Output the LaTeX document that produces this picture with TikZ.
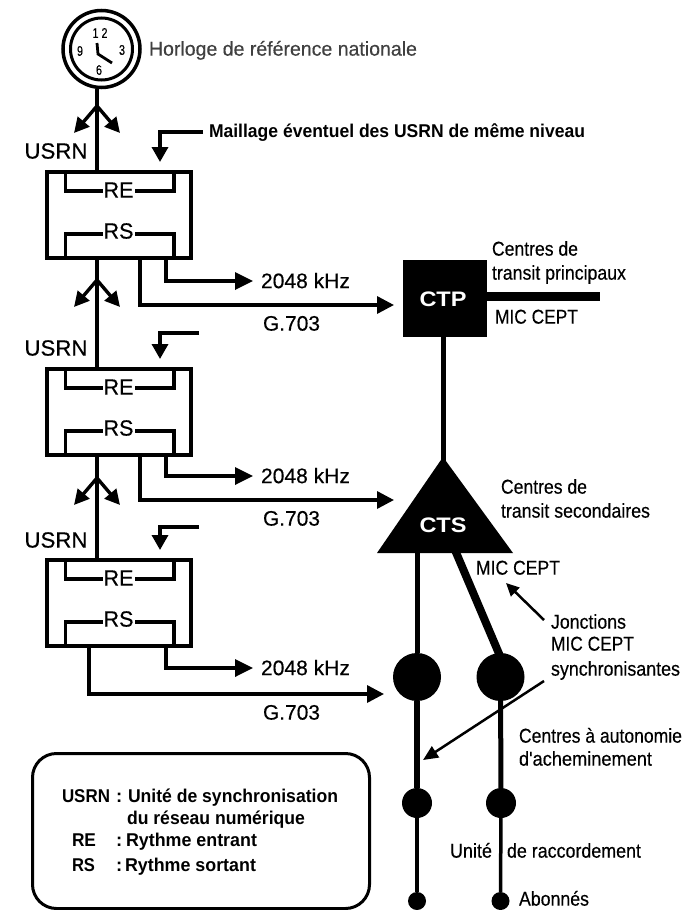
\documentclass[tikz,border=0pt]{standalone}
\usepackage{fontspec}
\usepackage{graphicx}
\setmainfont{Liberation Sans}
\newfontfamily\medf[FakeBold=0.35]{Liberation Sans}
\usetikzlibrary{arrows.meta}
\newcommand{\tw}[2]{\resizebox{#1pt}{\height}{#2}}
\tikzset{
  wire/.style={line width=3.6pt,line join=miter},
  thinwire/.style={line width=2.5pt},
  sm/.style={-{Triangle[length=15pt,width=16pt]},line width=3.4pt},
  bigarrow/.style={-{Triangle[length=18pt,width=17pt]},line width=3.4pt},
  lab/.style={anchor=mid west,yshift=-3pt,inner sep=0pt,outer sep=0pt,font=\fontsize{20}{21}\medf},
  lablarge/.style={lab,yshift=-1.5pt,font=\fontsize{21}{22}\medf},
  boldlab/.style={lab,font=\fontsize{18.5}{19}\selectfont\bfseries},
  ctr/.style={inner sep=0pt,outer sep=0pt,font=\fontsize{22}{23}\medf},
  whitelab/.style={inner sep=0pt,outer sep=0pt,text=white,font=\fontsize{21}{22}\selectfont\bfseries},
  digit/.style={inner sep=0pt,font=\fontsize{14}{15}\medf},
  blob/.style={circle,fill=black,inner sep=0pt},
  usrnbox/.style={draw,line width=3.8pt,rectangle,inner sep=0pt,minimum width=144pt,minimum height=86pt,anchor=north west},
}
\begin{document}
\begin{tikzpicture}[x=1pt,y=-1pt]
\useasboundingbox (0,0) rectangle (690,910);
% clock
\node[circle,draw,line width=3.5pt,minimum size=77pt,inner sep=0pt] (clock) at (101.5,49) {};
\node[circle,draw,line width=3pt,minimum size=62pt,inner sep=0pt] (dial) at (101.5,49) {};
\node[digit] (d12) at (100,33) {\tw{15}{1 2}};
\node[digit] (d9) at (80,51) {\tw{6}{9}};
\node[digit] (d3) at (122,50) {\tw{6}{3}};
\node[digit] (d6) at (99,70) {\tw{6}{6}};
\coordinate (h1) at (97,43);\coordinate (h2) at (98,54);\coordinate (h3) at (112,63);
\draw[line width=2.8pt] (h1) -- (h2) -- (h3);
\node[lab,text=black!75] (horloge) at (149,50) {\tw{268}{Horloge de référence nationale}};
\node[boldlab] (maillage) at (209,132) {\tw{376}{Maillage éventuel des USRN de même niveau}};
% boxes
\foreach \i/\t/\bot/\fb/\gy/\usy/\my/\mx/\xo in {1/170/256/281/305/151/132/203/140,2/367/453/476/500/348/333/199/140,3/558/645/668/694/540/527/199/89}{
  \node[usrnbox] (b\i) at (45,\t) {};
  \node[ctr] (re\i) at (118.5,\t+20) {\tw{30}{RE}};
  \node[ctr] (rs\i) at (118.5,\t+61) {\tw{30}{RS}};
  \coordinate (rea\i) at (65.5,\t);\coordinate (reb\i) at (65.5,\t+21);
  \coordinate (rec\i) at (174,\t);\coordinate (red\i) at (174,\t+21);
  \coordinate (rsa\i) at (65.5,\bot);\coordinate (rsb\i) at (65.5,\t+64);
  \coordinate (rsc\i) at (174,\bot);\coordinate (rsd\i) at (174,\t+64);
  \draw[wire] (rea\i) -- (reb\i) -- ([xshift=-1pt]re\i.west |- reb\i);
  \draw[wire] (rec\i) -- (red\i) -- ([xshift=1pt]re\i.east |- red\i);
  \draw[wire] (rsa\i) -- (rsb\i) -- ([xshift=-1pt]rs\i.west |- rsb\i);
  \draw[wire] (rsc\i) -- (rsd\i) -- ([xshift=1pt]rs\i.east |- rsd\i);
  \node[ctr,anchor=center] (usrn\i) at (56,\usy) {\tw{63}{USRN}};
  \coordinate (m\i) at (\mx,\my);\coordinate (mc\i) at (160,\my);\coordinate (mt\i) at (160,\t-8);
  \draw[sm] (m\i) -- (mc\i) -- (mt\i);
  \coordinate (fs\i) at (166,\bot);\coordinate (fc\i) at (166,\fb);\coordinate (ft\i) at (253,\fb);
  \draw[bigarrow] (fs\i) -- (fc\i) -- (ft\i);
  \node[lablarge] (khz\i) at (261,\fb) {\tw{89}{2048 kHz}};
  \node[lablarge] (g\i) at (263,\gy+18.5) {\tw{57}{G.703}};
  \coordinate (gs\i) at (\xo,\bot);\coordinate (gc\i) at (\xo,\gy);
}
% vertical chain
\coordinate (j1) at (97,106);\coordinate (j2) at (97,280);\coordinate (j3) at (97,478);
\coordinate (s0) at (97,89);\coordinate (s1t) at (97,170);\coordinate (s1b) at (97,256);
\coordinate (s2t) at (97,367);\coordinate (s2b) at (97,453);\coordinate (s3t) at (97,558);
\draw[wire] (s0) -- (s1t);\draw[wire] (s1b) -- (s2t);\draw[wire] (s2b) -- (s3t);
\foreach \j in {1,2,3}{
  \coordinate (al\j) at ([shift={(-23,27)}]j\j);
  \coordinate (ar\j) at ([shift={(23,27)}]j\j);
  \draw[sm,-{Triangle[length=15pt,width=15pt]}] (j\j) -- (al\j);
  \draw[sm,-{Triangle[length=15pt,width=15pt]}] (j\j) -- (ar\j);
}
% CTP
\node[rectangle,fill=black,minimum width=84pt,minimum height=77pt,inner sep=0pt,anchor=north west] (ctp) at (403,260) {};
\node[whitelab] (ctpl) at (443,299) {\tw{47}{CTP}};
\coordinate (ctpe) at (600,296);
\draw[line width=9pt] (ctp.east |- ctpe) -- (ctpe);
% CTS
\coordinate (ta) at (443,457);\coordinate (tb) at (377,553);\coordinate (tc) at (513,553);
\fill (ta) -- (tc) -- (tb) -- cycle;
\node[whitelab] (ctsl) at (443,525) {\tw{47}{CTS}};
\draw[line width=5pt] (ctp.south -| ta) -- ([yshift=-6pt]ta);
% G.703 lines
\coordinate (k1) at (394,305);\coordinate (k2) at (394,500);\coordinate (k3) at (384,694);
\foreach \i in {1,2,3}{\draw[bigarrow,-{Triangle[length=17pt,width=17pt]}] (gs\i) -- (gc\i) -- (k\i);}
% trees
\node[blob,minimum size=48pt] (c1) at (417,677) {};
\node[blob,minimum size=48pt] (c2) at (500.5,677) {};
\node[blob,minimum size=30pt] (u1) at (417,803) {};
\node[blob,minimum size=30pt] (u2) at (501,803) {};
\node[blob,minimum size=18pt] (a1) at (417,901) {};
\node[blob,minimum size=18pt] (a2) at (500.5,901) {};
\coordinate (tl) at (417,553);\coordinate (tr) at (455,550);\coordinate (ce) at (500,656);
\draw[line width=5pt] (tl) -- (c1);
\draw[line width=8pt] (tr) -- (ce);
\draw[line width=6pt] (c1) -- (u1);
\draw[line width=5pt] (c2) -- (u2);
\draw[line width=4pt] (u1) -- (a1);
\draw[line width=3.5pt] (u2) -- (a2);
% pointers
\coordinate (p1s) at (544,620);\coordinate (p1t) at (506,583);
\coordinate (p2s) at (544,681);\coordinate (p2t) at (423,760);
\draw[thinwire,-{Triangle[length=13pt,width=12pt]}] (p1s) -- (p1t);
\draw[thinwire,-{Triangle[length=15pt,width=13pt]}] (p2s) -- (p2t);
% right labels
\node[lab] (t1) at (492,250) {\tw{86}{Centres de}};
\node[lab] (t2) at (492,274) {\tw{134}{transit principaux}};
\node[lab] (t3) at (495,318) {\tw{83}{MIC CEPT}};
\node[lab] (t4) at (501,488) {\tw{86}{Centres de}};
\node[lab] (t5) at (501,512) {\tw{149}{transit secondaires}};
\node[lab] (t6) at (476,569) {\tw{84}{MIC CEPT}};
\node[lab] (t7) at (551,623) {\tw{75}{Jonctions}};
\node[lab] (t8) at (551,645) {\tw{83}{MIC CEPT}};
\node[lab] (t9) at (551,670) {\tw{129}{synchronisantes}};
\node[lab] (t10) at (519,737) {\tw{163}{Centres à autonomie}};
\node[lab] (t11) at (519,760) {\tw{133}{d'acheminement}};
\node[lab] (t12) at (450,852) {\tw{42}{Unité}};
\node[lab] (t13) at (507,852) {\tw{134}{de raccordement}};
\node[lab] (t14) at (519,900) {\tw{70}{Abonnés}};
% legend
\node[draw,line width=3pt,rounded corners=24pt,minimum width=337pt,minimum height=155pt,anchor=north west,inner sep=0pt] (legend) at (31,752) {};
\node[boldlab] (l1) at (62,797) {\tw{48}{USRN}};
\node[boldlab] (l2) at (116,797) {:};
\node[boldlab] (l3) at (128,797) {\tw{210}{Unité de synchronisation}};
\node[boldlab] (l4) at (127,819) {\tw{178}{du réseau numérique}};
\node[boldlab] (l5) at (72,841) {\tw{24}{RE}};
\node[boldlab] (l6) at (116,841) {:};
\node[boldlab] (l7) at (126,841) {\tw{131}{Rythme entrant}};
\node[boldlab] (l8) at (72,866) {\tw{23}{RS}};
\node[boldlab] (l9) at (116,866) {:};
\node[boldlab] (l10) at (125,866) {\tw{131}{Rythme sortant}};
\end{tikzpicture}
\end{document}
